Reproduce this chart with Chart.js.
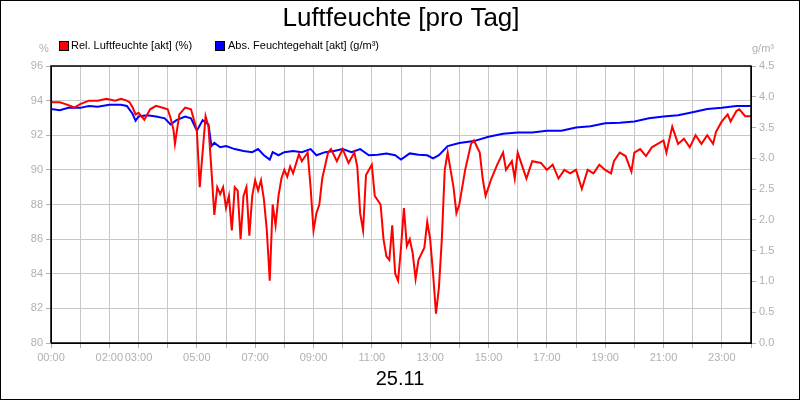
<!DOCTYPE html>
<html><head><meta charset="utf-8">
<script src="https://cdn.jsdelivr.net/npm/chart.js@4"></script>
<style>html,body{margin:0;padding:0;background:#fff}#w{width:798px;height:398px;border:1px solid #000;position:relative}</style>
</head><body><div id="w"><canvas id="c" width="798" height="398"></canvas></div>
<script>
const relHours=[0,0.3,0.5,0.8,1.0,1.3,1.6,1.9,2.2,2.4,2.6,2.7,2.8,2.9,3.0,3.2,3.4,3.6,3.8,4.0,4.1,4.2,4.25,4.4,4.6,4.8,5.0,5.1,5.3,5.4,5.5,5.6,5.7,5.8,5.9,6.0,6.1,6.2,6.3,6.4,6.5,6.6,6.7,6.8,6.9,7.0,7.1,7.2,7.3,7.4,7.5,7.6,7.7,7.8,7.9,8.0,8.1,8.2,8.3,8.5,8.6,8.8,8.9,9.0,9.1,9.2,9.3,9.5,9.6,9.8,10.0,10.2,10.4,10.5,10.6,10.7,10.8,11.0,11.1,11.3,11.4,11.5,11.6,11.7,11.8,11.9,12.0,12.1,12.2,12.3,12.4,12.5,12.6,12.8,12.9,13.0,13.1,13.2,13.3,13.4,13.5,13.6,13.8,13.9,14.0,14.2,14.4,14.5,14.7,14.8,14.9,15.1,15.3,15.5,15.6,15.8,15.9,16.0,16.2,16.3,16.5,16.8,17.0,17.2,17.4,17.6,17.8,18.0,18.2,18.4,18.6,18.8,19.0,19.2,19.3,19.5,19.7,19.9,20.0,20.2,20.4,20.6,20.8,21.0,21.1,21.3,21.5,21.7,21.9,22.1,22.3,22.5,22.7,22.8,23.0,23.2,23.3,23.5,23.6,23.8,24.0];
const relValues=[93.9,93.9,93.8,93.6,93.8,94.0,94.0,94.1,94.0,94.1,94.0,93.9,93.6,93.2,93.3,92.9,93.5,93.7,93.6,93.5,93.0,92.3,91.5,93.2,93.6,93.5,92.3,89.0,93.1,92.5,90.0,87.4,89.0,88.6,89.0,87.8,88.5,86.5,89.0,88.8,86.0,88.5,89.0,86.2,88.5,89.4,88.8,89.4,88.3,86.5,83.6,88.0,86.8,88.5,89.5,90.0,89.6,90.2,89.8,90.9,90.5,91.0,89.0,86.5,87.5,88.0,89.5,91.0,91.2,90.5,91.2,90.4,91.0,90.2,87.5,86.5,89.7,90.3,88.5,88.0,86.0,85.0,84.8,86.8,84.0,83.6,85.5,87.8,85.6,86.0,85.2,83.7,84.8,85.5,87.0,86.0,84.0,81.7,83.2,86.0,90.0,91.0,89.0,87.5,88.0,90.0,91.5,91.7,91.0,89.5,88.5,89.5,90.3,91.0,90.0,90.5,89.5,91.0,90.0,89.5,90.5,90.4,90.0,90.3,89.5,90.0,89.8,90.0,88.9,90.0,89.8,90.3,90.0,89.8,90.5,91.0,90.8,89.9,91.0,91.2,90.8,91.3,91.5,91.7,91.0,92.5,91.5,91.8,91.3,92.0,91.5,92.0,91.5,92.2,92.8,93.2,92.8,93.4,93.5,93.1,93.1];
const absHours=[0,0.3,0.6,1.0,1.3,1.6,2.0,2.4,2.6,2.8,2.9,3.0,3.3,3.6,3.9,4.1,4.3,4.6,4.8,5.0,5.2,5.4,5.5,5.6,5.8,6.0,6.3,6.6,6.9,7.1,7.3,7.5,7.6,7.8,8.0,8.3,8.6,8.9,9.1,9.4,9.7,10.0,10.3,10.6,10.9,11.2,11.5,11.8,12.0,12.3,12.6,12.9,13.1,13.3,13.6,14.0,14.5,15.0,15.5,16.0,16.5,17.0,17.5,18.0,18.5,19.0,19.5,20.0,20.5,21.0,21.5,22.0,22.5,23.0,23.5,24.0];
const absValues=[3.80,3.78,3.82,3.82,3.85,3.84,3.87,3.87,3.85,3.72,3.61,3.68,3.70,3.68,3.65,3.55,3.62,3.68,3.65,3.45,3.62,3.55,3.20,3.25,3.18,3.20,3.15,3.12,3.10,3.15,3.05,2.98,3.10,3.05,3.10,3.12,3.10,3.15,3.05,3.10,3.12,3.15,3.10,3.15,3.05,3.06,3.08,3.05,2.98,3.08,3.06,3.05,3.00,3.05,3.20,3.25,3.28,3.35,3.40,3.42,3.42,3.45,3.45,3.50,3.52,3.57,3.58,3.60,3.65,3.68,3.70,3.75,3.80,3.82,3.85,3.85];
const xLabelHours=[0,2,3,5,7,9,11,13,15,17,19,21,23];
const relLabel='Rel. Luftfeuchte [akt] (%)', absLabel='Abs. Feuchtegehalt [akt] (g/m³)';
const FONT='"Liberation Sans", Arial, sans-serif';
const gray='#b0b0b0';
const deco={id:'deco',afterDraw(ch){const c=ch.ctx,a=ch.chartArea;c.save();
 c.fillStyle='#000';c.font='26px '+FONT;c.textAlign='center';c.textBaseline='middle';c.fillText('Luftfeuchte [pro Tag]',400,18);
 c.font='20px '+FONT;c.fillText('25.11',399,378);
 c.font='11px '+FONT;c.textAlign='left';
 c.fillStyle='#f00';c.fillRect(59,41,8,8);c.strokeStyle='#000';c.lineWidth=1;c.strokeRect(58.5,40.5,9,9);
 c.fillStyle='#000';c.fillText(relLabel,70,45);
 c.fillStyle='#00f';c.fillRect(215,41,8,8);c.strokeRect(214.5,40.5,9,9);
 c.fillStyle='#000';c.fillText(absLabel,227,45);
 c.fillStyle=gray;c.font='11px '+FONT;c.fillText('%',38,48);c.textAlign='right';c.fillText('g/m³',773,48);
 c.strokeStyle='#000';c.lineWidth=1.5;c.beginPath();c.moveTo(a.left,a.bottom);c.lineTo(a.left,a.top);c.lineTo(a.right,a.top);c.lineTo(a.right,a.bottom);c.lineTo(a.left,a.bottom);c.stroke();
 c.restore();}};
new Chart(document.getElementById('c'),{type:'line',
 data:{datasets:[
  {label:relLabel,data:relHours.map((h,i)=>({x:h,y:relValues[i]})),borderColor:'#f00',borderWidth:2,pointRadius:0,yAxisID:'y',tension:0},
  {label:absLabel,data:absHours.map((h,i)=>({x:h,y:absValues[i]})),borderColor:'#00f',borderWidth:2,pointRadius:0,yAxisID:'y2',tension:0}]},
 options:{responsive:false,animation:false,layout:{padding:{top:65,left:0,right:0,bottom:0}},
  plugins:{legend:{display:false},title:{display:false},tooltip:{enabled:false}},
  scales:{
   x:{type:'linear',min:0,max:24,afterFit(s){s.height=56;},
      ticks:{stepSize:1,autoSkip:false,maxRotation:0,color:gray,font:{size:11,family:FONT},
        callback:v=>xLabelHours.includes(v)?String(v).padStart(2,'0')+':00':''},
      grid:{color:'#c8c8c8',tickLength:5,tickColor:gray},border:{color:'#000'}},
   y:{position:'left',min:80,max:96,afterFit(s){s.width=50;},
      ticks:{stepSize:2,color:gray,font:{size:11,family:FONT}},grid:{color:'#c8c8c8',tickLength:5,tickColor:gray},border:{color:'#000'}},
   y2:{position:'right',min:0,max:4.5,afterFit(s){s.width=48;},
      ticks:{stepSize:0.5,color:gray,font:{size:11,family:FONT},callback:v=>v.toFixed(1)},grid:{drawOnChartArea:false,tickLength:5,tickColor:gray},border:{color:'#000'}}}},
 plugins:[deco]});
</script></body></html>
